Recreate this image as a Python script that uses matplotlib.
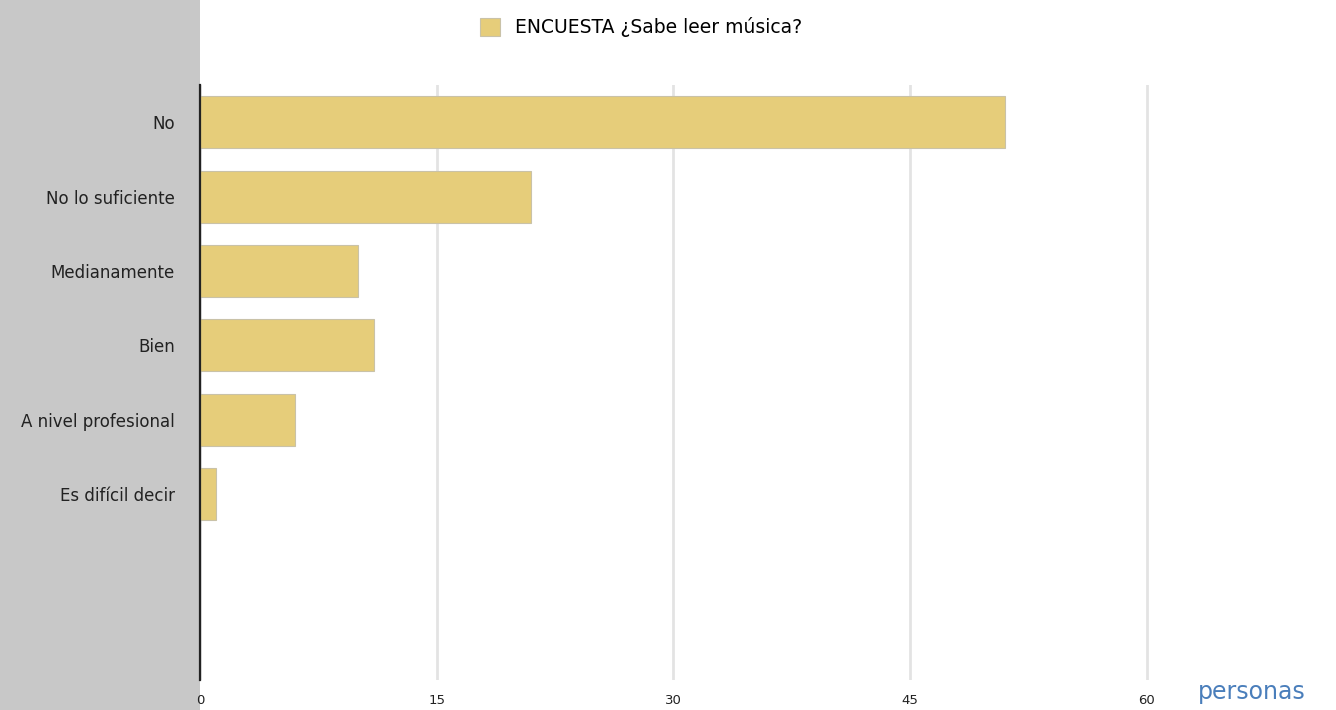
import matplotlib.pyplot as plt
from matplotlib.patches import Rectangle

categories = ['No', 'No lo suficiente', 'Medianamente', 'Bien',
              'A nivel profesional', 'Es difícil decir']
values = [51, 21, 10, 11, 6, 1]
x_ticks = [0, 15, 30, 45, 60]
series_name = 'ENCUESTA ¿Sabe leer música?'

plt.rcParams['font.family'] = ['DejaVu Sans']

fig = plt.figure(figsize=(13.36, 7.10), dpi=100)
W, H = 1336, 710

# gray panel behind the category labels
fig.patches.append(Rectangle((0, 0), 200 / W, 1, transform=fig.transFigure,
                             facecolor='#c8c8c8', edgecolor='none', zorder=-5))

ax = fig.add_axes([200 / W, 1 - 680 / H, 1 - 200 / W, (680 - 85) / H])
ax.patch.set_alpha(0)

y_pos = list(range(len(categories)))
ax.barh(y_pos, values, height=0.7, color='#e6cd7a', edgecolor='#c9c2a8',
        linewidth=0.8, label=series_name, zorder=3)

ax.set_ylim(7.5, -0.5)
ax.set_xlim(0, 72)
ax.set_yticks(y_pos)
ax.set_yticklabels(categories, fontsize=12, color='#222222')
ax.set_xticks(x_ticks)
ax.set_xticklabels([str(t) for t in x_ticks], fontsize=9.5, color='#222222')
ax.tick_params(axis='y', length=0, pad=18)
ax.tick_params(axis='x', length=0, pad=10)

ax.grid(axis='x', color='#e3e3e3', linewidth=2, zorder=1)
ax.grid(axis='y', visible=False)
for s in ['top', 'right', 'bottom']:
    ax.spines[s].set_visible(False)
ax.spines['left'].set_color('#222222')
ax.spines['left'].set_linewidth(1.6)
ax.spines['left'].set_zorder(4)

fig.legend(loc='center', bbox_to_anchor=(641 / W, 1 - 27 / H), frameon=False,
           fontsize=13.5, handlelength=1.1, handleheight=1.1, handletextpad=0.8)

fig.text(1252 / W, 1 - 692 / H, 'personas', fontsize=17, color='#4a7ebb',
         ha='center', va='center')

fig.savefig('out.png', dpi=100)
